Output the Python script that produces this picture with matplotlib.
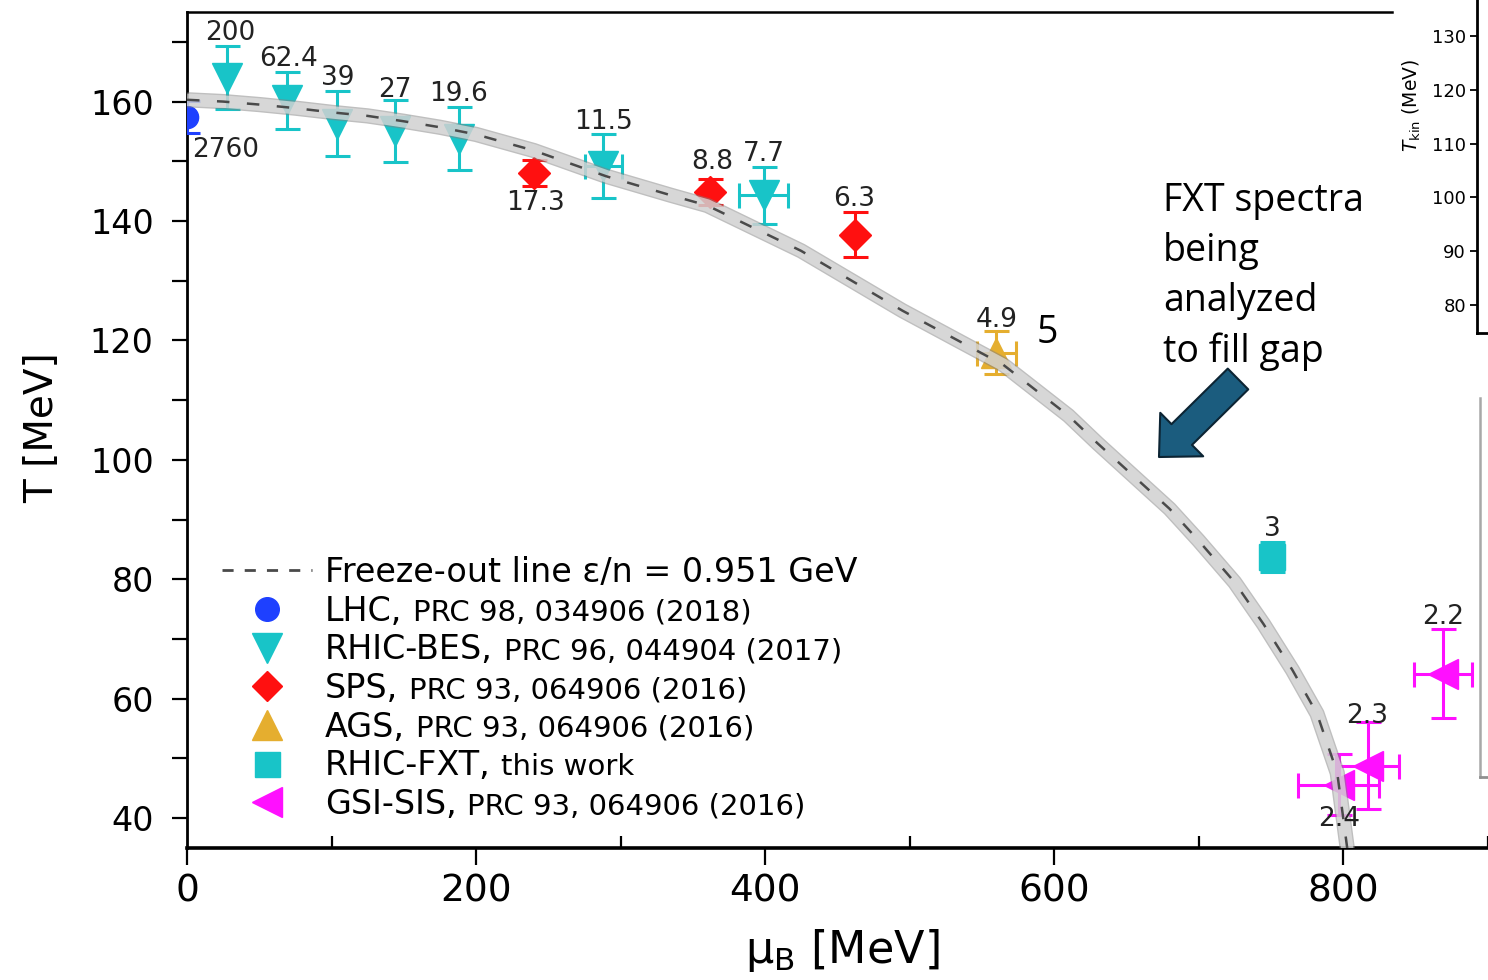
import matplotlib
matplotlib.use("Agg")
import matplotlib.pyplot as plt
from matplotlib.lines import Line2D
from matplotlib.patches import FancyArrowPatch
from matplotlib.transforms import IdentityTransform
from matplotlib.ticker import MultipleLocator

# freeze-out line (mu_B, T)
curve_mu = [0, 25, 50, 75, 100, 125, 150, 175, 200, 240, 290, 335, 360, 425,
            495, 565, 610, 630, 680, 700, 725, 745, 765, 782, 796, 804]
curve_T = [160.3, 160.0, 159.5, 158.9, 158.2, 157.6, 156.7, 155.7, 154.5, 151.8,
           147.5, 144.3, 142.6, 135.0, 125.0, 115.9, 107.4, 102.8, 91.8, 86.5,
           79.5, 72.5, 64.8, 57.5, 47.6, 33.0]

lhc_mu = [0]
lhc_T = [157.4]
lhc_Terr = [2.7]
lhc_lab = ["2760"]

bes_mu = [28, 69, 104, 144, 188, 288, 399]
bes_T = [164.0, 160.2, 156.3, 155.0, 153.8, 149.2, 144.3]
bes_Terr = [5.3, 4.8, 5.4, 5.2, 5.3, 5.3, 4.8]
bes_muerr = [0, 0, 0, 0, 0, 12.7, 17]
bes_lab = ["200", "62.4", "39", "27", "19.6", "11.5", "7.7"]

sps_mu = [240, 362, 462]
sps_T = [148.0, 144.9, 137.7]
sps_Terr = [2.2, 2.2, 3.8]
sps_lab = ["17.3", "8.8", "6.3"]

ags_mu = [560]
ags_T = [117.9]
ags_Terr = [3.6]
ags_muerr = [13.5]
ags_lab = ["4.9"]

fxt_mu = [751]
fxt_T = [83.8]
fxt_Terr = [2.5]
fxt_lab = ["3"]

gsi_mu = [797, 817, 869]
gsi_T = [45.6, 48.8, 64.2]
gsi_Terr = [5.1, 7.3, 7.4]
gsi_muerr = [28, 22, 20]
gsi_lab = ["2.4", "2.3", "2.2"]

legend_names = ["LHC,", "RHIC-BES,", "SPS,", "AGS,", "RHIC-FXT,", "GSI-SIS,"]
legend_refs = ["PRC 98, 034906 (2018)", "PRC 96, 044904 (2017)",
               "PRC 93, 064906 (2016)", "PRC 93, 064906 (2016)",
               "this work", "PRC 93, 064906 (2016)"]

tkin_ticks = [80, 90, 100, 110, 120, 130]

plt.rcParams['font.family'] = ['DejaVu Sans']

W, H = 1488, 980
fig = plt.figure(figsize=(W / 100, H / 100), dpi=100)
ax = fig.add_axes([187 / W, 1 - 848 / H, (1487.5 - 187) / W, (848 - 12) / H])

cyan = '#18C4C8'
red = '#FF1010'
gold = '#E5AE2F'
mag = '#FF10FF'
blue = '#1E40FF'

eb = dict(capsize=9, elinewidth=2.2, capthick=2.2, ls='none', zorder=3)

ax.errorbar(lhc_mu, lhc_T, yerr=lhc_Terr, fmt='o', ms=16, color=blue, **eb)
ax.errorbar(bes_mu, bes_T, yerr=bes_Terr, xerr=bes_muerr, fmt='v', ms=22, color=cyan, **eb)
ax.errorbar(sps_mu, sps_T, yerr=sps_Terr, fmt='D', ms=16, color=red, **eb)
ax.errorbar(ags_mu, ags_T, yerr=ags_Terr, xerr=ags_muerr, fmt='^', ms=21, color=gold, **eb)
ax.errorbar(fxt_mu, fxt_T, yerr=fxt_Terr, fmt='s', ms=19, color=cyan, **eb)
ax.errorbar(gsi_mu, gsi_T, yerr=gsi_Terr, xerr=gsi_muerr, fmt='<', ms=21, color=mag, **eb)

# grey band with dashed centre line
ax.plot(curve_mu, curve_T, color='#808080', lw=11, alpha=0.5, zorder=4,
        solid_capstyle='butt', solid_joinstyle='round')
ax.plot(curve_mu, curve_T, color='#e2e2e2', lw=9, alpha=0.7, zorder=4,
        solid_capstyle='butt', solid_joinstyle='round')
ax.plot(curve_mu, curve_T, color='#4a4a4a', lw=1.8, dashes=(5, 7), zorder=5)

# energy labels
offsets = {
    "lhc": [(28, -24)],
    "bes": [(2, 32), (1.5, 30), (0, 33), (0, 30), (0, 32), (0, 32), (0, 30)],
    "sps": [(1.5, -21.6), (1.5, 21.6), (0, 26)],
    "ags": [(0, 24)],
    "fxt": [(0, 20)],
    "gsi": [(0, -25), (0, 36), (0, 41)],
}
groups = {
    "lhc": (lhc_mu, lhc_T, lhc_lab),
    "bes": (bes_mu, bes_T, bes_lab),
    "sps": (sps_mu, sps_T, sps_lab),
    "ags": (ags_mu, ags_T, ags_lab),
    "fxt": (fxt_mu, fxt_T, fxt_lab),
    "gsi": (gsi_mu, gsi_T, gsi_lab),
}
for key, (mus, Ts, labs) in groups.items():
    for m, t, lab, off in zip(mus, Ts, labs, offsets[key]):
        ax.annotate(lab, (m, t), xytext=off, textcoords='offset points',
                    ha='center', va='center', fontsize=19, color='#222222',
                    zorder=6, annotation_clip=False)

ax.set_xlim(0, 900)
ax.set_ylim(35, 175)
ax.xaxis.set_major_locator(MultipleLocator(200))
ax.xaxis.set_minor_locator(MultipleLocator(100))
ax.yaxis.set_major_locator(MultipleLocator(20))
ax.yaxis.set_minor_locator(MultipleLocator(10))
ax.tick_params(axis='x', which='major', direction='out', length=12, width=1.6,
               labelsize=27, pad=6)
ax.tick_params(axis='x', which='minor', direction='in', length=9, width=1.6)
ax.tick_params(axis='y', which='both', direction='out', length=11, width=1.6,
               labelsize=24, pad=13)
ax.spines['top'].set_visible(False)
ax.spines['right'].set_visible(False)
ax.spines['left'].set_linewidth(2)
ax.spines['bottom'].set_linewidth(2.6)
ax.plot([0, (1392 - 187) / (1487.5 - 187)], [1, 1], transform=ax.transAxes,
        color='black', lw=1.8, clip_on=False)

fig.text(842 / W, 1 - 950 / H, 'μ$_\\mathrm{B}$ [MeV]', fontsize=32,
         ha='center', va='center')
fig.text(42 / W, 1 - 428 / H, 'T [MeV]', fontsize=28, rotation=90,
         ha='center', va='center')

# legend
handles = [Line2D([], [], color='#4a4a4a', lw=2, dashes=(4, 4))]
markers = [('o', blue, 17), ('v', cyan, 21), ('D', red, 15), ('^', gold, 21),
           ('s', cyan, 18), ('<', mag, 21)]
for mk, c, s in markers:
    handles.append(Line2D([], [], ls='none', marker=mk, color=c, ms=s))
labels = ["Freeze-out line ε/n = 0.951 GeV"] + legend_names
leg = ax.legend(handles, labels, loc='upper left',
                bbox_to_anchor=(222 / W, 1 - 556 / H), bbox_transform=fig.transFigure,
                frameon=False, fontsize=24, handlelength=2.7, handletextpad=0.38,
                labelspacing=0.17, borderpad=0, borderaxespad=0)

fig.canvas.draw()
renderer = fig.canvas.get_renderer()
for t, ref in zip(leg.get_texts()[1:], legend_refs):
    bb = t.get_window_extent(renderer)
    fig.text((bb.x1 + 11) / W, (bb.y0 + 1) / H, ref, fontsize=21, ha='left', va='bottom')

# side annotation
fig.text(1163 / W, 1 - 182 / H, "FXT spectra\nbeing\nanalyzed\nto fill gap",
         family='Open Sans', fontsize=27, ha='left', va='top', linespacing=1.42)
fig.text(1037 / W, 1 - 343 / H, "5", family='Open Sans', fontsize=27,
         ha='left', va='baseline')
arrow = FancyArrowPatch((1238, H - 379), (1159, H - 457),
                        arrowstyle='simple,head_length=2.3,head_width=4.4,tail_width=2.1',
                        mutation_scale=10, shrinkA=0, shrinkB=0,
                        fc='#1B5C7E', ec='#0C2433', lw=1.5,
                        transform=IdentityTransform())
fig.add_artist(arrow)

# piece of the neighbouring T_kin panel
axk = fig.add_axes([1477 / W, 1 - 333 / H, 0.05, 333 / H])
axk.set_ylim(74.8, 136.7)
axk.set_yticks(tkin_ticks)
axk.set_xticks([])
axk.tick_params(axis='y', labelsize=13, length=5, width=1.3, pad=3)
axk.spines['top'].set_visible(False)
axk.spines['right'].set_visible(False)
axk.spines['left'].set_linewidth(2)
axk.spines['bottom'].set_linewidth(2)
axk.patch.set_alpha(0)
fig.text(1412 / W, 1 - 105 / H, '$T_\\mathrm{kin}$ (MeV)', fontsize=13.5,
         rotation=90, ha='center', va='center')

# grey frame of the next panel
fig.add_artist(Line2D([1480 / W, 1480 / W], [1 - 398 / H, 1 - 777 / H],
                      color='#a8a8a8', lw=1.8))
fig.add_artist(Line2D([1480 / W, 1], [1 - 777 / H, 1 - 777 / H],
                      color='#909090', lw=2))

fig.savefig('out.png', dpi=100)
